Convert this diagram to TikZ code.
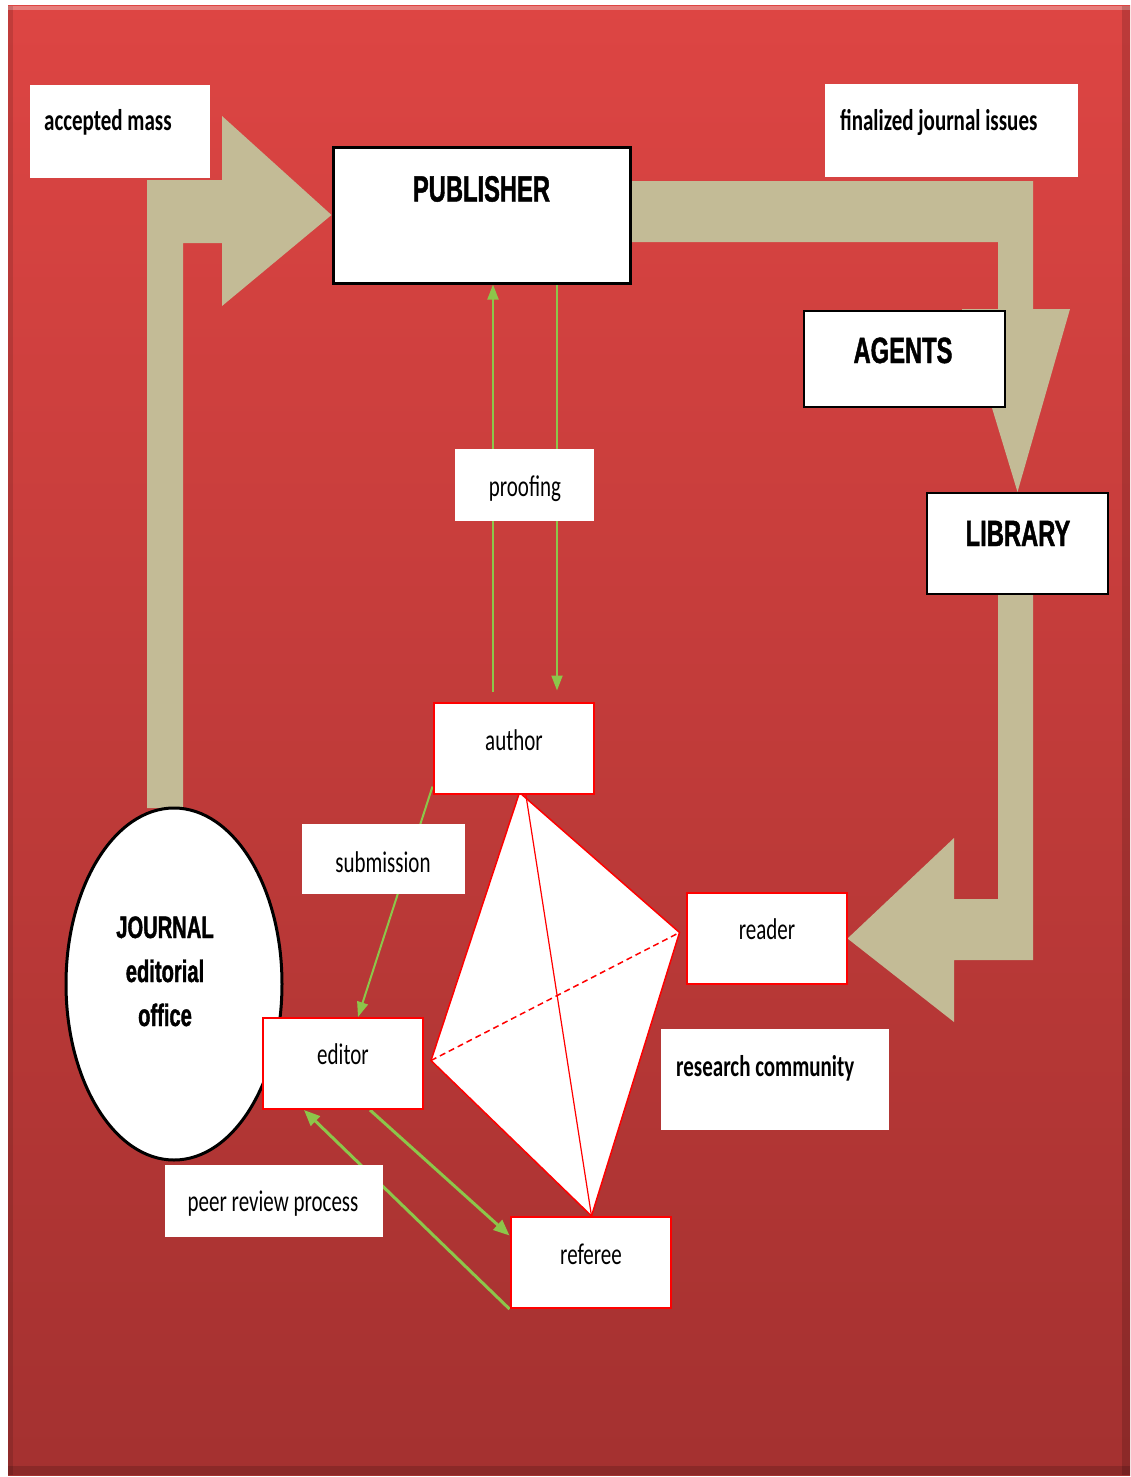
\documentclass[tikz,border=0pt]{standalone}
\usepackage{fontspec}
\usetikzlibrary{arrows.meta,calc,shapes.geometric}
\newfontfamily\labfont[FakeStretch=0.7]{Carlito}
\newfontfamily\hvfont[FakeStretch=0.65,BoldFeatures={FakeBold=1.2}]{Liberation Sans}
\definecolor{bgtop}{RGB}{221,69,67}
\definecolor{bgbot}{RGB}{164,49,48}
\definecolor{flowtan}{RGB}{195,187,150}
\definecolor{linkgreen}{RGB}{140,198,74}
\pgfdeclarelayer{bg}
\pgfdeclarelayer{mid}
\pgfsetlayers{bg,mid,main}
\begin{document}
\begin{tikzpicture}[x=1pt,y=-1pt,
  plain/.style={fill=white, draw=none, inner sep=0pt},
  redbox/.style={fill=white, draw=red, line width=2pt, inner sep=0pt},
  blackbox/.style={fill=white, draw=black, line width=2pt, inner sep=0pt},
  lab/.style={font=\labfont\fontsize{30}{32}\selectfont, inner sep=0pt, anchor=base},
  labb/.style={font=\labfont\bfseries\fontsize{30}{32}\selectfont, inner sep=0pt, anchor=base west},
  heavy/.style={font=\hvfont\bfseries\fontsize{36.5}{40}\selectfont, inner sep=0pt, anchor=base},
  heavys/.style={font=\hvfont\bfseries\fontsize{31}{34}\selectfont, inner sep=0pt, anchor=base},
  flow/.style={fill=flowtan},
  garrow/.style={draw=linkgreen, line width=2pt, -{Triangle[length=15pt,width=11pt]}},
  gthick/.style={draw=linkgreen, line width=3pt, -{Triangle[length=16pt,width=13pt]}},
  tetra/.style={draw=red, line width=1.5pt, line join=miter},
]
\useasboundingbox (0,0) rectangle (1131,1477);

% ---------- boxes ----------
\node[plain, minimum width=180pt, minimum height=93pt] (accm) at (120,131.5) {};
\node[labb] (accmT) at (44,131) {accepted mass};

\node[plain, minimum width=253pt, minimum height=93pt] (fin) at (951.5,130.5) {};
\node[labb] (finT) at (840,131) {finalized journal issues};

\node[blackbox, line width=3pt, minimum width=297pt, minimum height=136pt] (pub) at (481.5,215) {};
\node[heavy] (pubT) at (481.5,201.5) {PUBLISHER};

\node[blackbox, minimum width=201pt, minimum height=96pt] (agents) at (904.5,359) {};
\node[heavy] (agentsT) at (903,363) {AGENTS};

\node[blackbox, minimum width=181pt, minimum height=101pt] (lib) at (1017.5,543.5) {};
\node[heavy] (libT) at (1018,546) {LIBRARY};

\node[plain, minimum width=139pt, minimum height=72pt] (proof) at (524.5,485) {};
\node[lab] (proofT) at (525,496) {proofing};

\node[redbox, minimum width=160pt, minimum height=91pt] (author) at (513.5,748) {};
\node[lab] (authorT) at (514,750) {author};

\node[plain, minimum width=163pt, minimum height=70pt] (subm) at (383.5,859) {};
\node[lab] (submT) at (383,872) {submission};

\node[draw=black, line width=3pt, fill=white, ellipse, inner sep=0pt,
      minimum width=216pt, minimum height=352pt] (office) at (174,984) {};
\node[heavys] (officeA) at (165,938) {JOURNAL};
\node[heavys] (officeB) at (165,982) {editorial};
\node[heavys] (officeC) at (165,1026) {office};

\node[redbox, minimum width=160pt, minimum height=91pt] (editor) at (343,1063.5) {};
\node[lab] (editorT) at (343,1064) {editor};

\node[redbox, minimum width=160pt, minimum height=91pt] (reader) at (766.5,938.5) {};
\node[lab] (readerT) at (767,939) {reader};

\node[plain, minimum width=228pt, minimum height=101pt] (rc) at (774.5,1079.5) {};
\node[labb] (rcT) at (676,1076) {research community};

\node[redbox, minimum width=160pt, minimum height=91pt] (referee) at (590.5,1262.5) {};
\node[lab] (refereeT) at (591,1264) {referee};

\node[plain, minimum width=218pt, minimum height=72pt] (peer) at (273.5,1201) {};
\node[lab] (peerT) at (273,1211) {peer review process};

% ---------- background and block arrows ----------
\begin{pgfonlayer}{bg}
  \shade[top color=bgtop, bottom color=bgbot] (8,6) rectangle (1130,1475);
  \fill[white, opacity=0.3] (8,6) rectangle (1130,10);
  \fill[black, opacity=0.12] (8,6) rectangle (13,1475);
  \fill[black, opacity=0.15] (1122,6) rectangle (1130,1475);
  \fill[black, opacity=0.15] (8,1466) rectangle (1130,1475);

  % journal office -> publisher
  \fill[flow] (147,808) -- (147,180) -- (222,180) -- (222,116) -- (pub.west)
    -- (222,306) -- (222,243) -- (183,243) -- (183,808) -- cycle;
  % publisher -> library
  \fill[flow] (630,181) -- (1033,181) -- (1033,309) -- (1070,309) -- (lib.north)
    -- (962,309) -- (998,309) -- (998,242) -- (630,242) -- cycle;
  % library -> reader
  \fill[flow] (998,594) -- (1033,594) -- (1033,960) -- (954,960) -- (954,1022)
    -- (reader.east) -- (954,838) -- (954,899) -- (998,899) -- cycle;
\end{pgfonlayer}

% ---------- research community tetrahedron and links ----------
\begin{pgfonlayer}{mid}
  \coordinate (tA) at ($(author.south)+(6,-2)$);
  \coordinate (tB) at ($(author.south)+(12,-2)$);
  \coordinate (tE) at ($(editor.east)+(7,-3)$);
  \coordinate (tR) at ($(reader.west)+(-6,-6)$);
  \coordinate (tF) at ($(referee.north)+(1,0)$);
  \fill[white] (tA) -- (tR) -- (tF) -- (tE) -- cycle;
  \draw[tetra] (tA) -- (tR) -- (tF) -- (tE) -- cycle;
  \draw[tetra, line width=1.2pt] (tB) -- (tF);
  \draw[tetra, dashed, dash pattern=on 6pt off 4pt] (tE) -- (tR);

  % proofing exchange
  \draw[garrow] ([xshift=-20.5pt,yshift=10pt]author.north) -- ([xshift=11.5pt]pub.south);
  \draw[garrow] ([xshift=75.5pt]pub.south) -- ([xshift=43.5pt,yshift=11pt]author.north);
  % submission
  \draw[garrow] ([yshift=8pt]author.south west) -- ([xshift=15pt]editor.north);
  % peer review
  \draw[gthick] ([xshift=27pt]editor.south) -- ([yshift=27pt]referee.west);
  \draw[gthick] (referee.south west) -- ([xshift=-39pt]editor.south);
\end{pgfonlayer}
\end{tikzpicture}
\end{document}
